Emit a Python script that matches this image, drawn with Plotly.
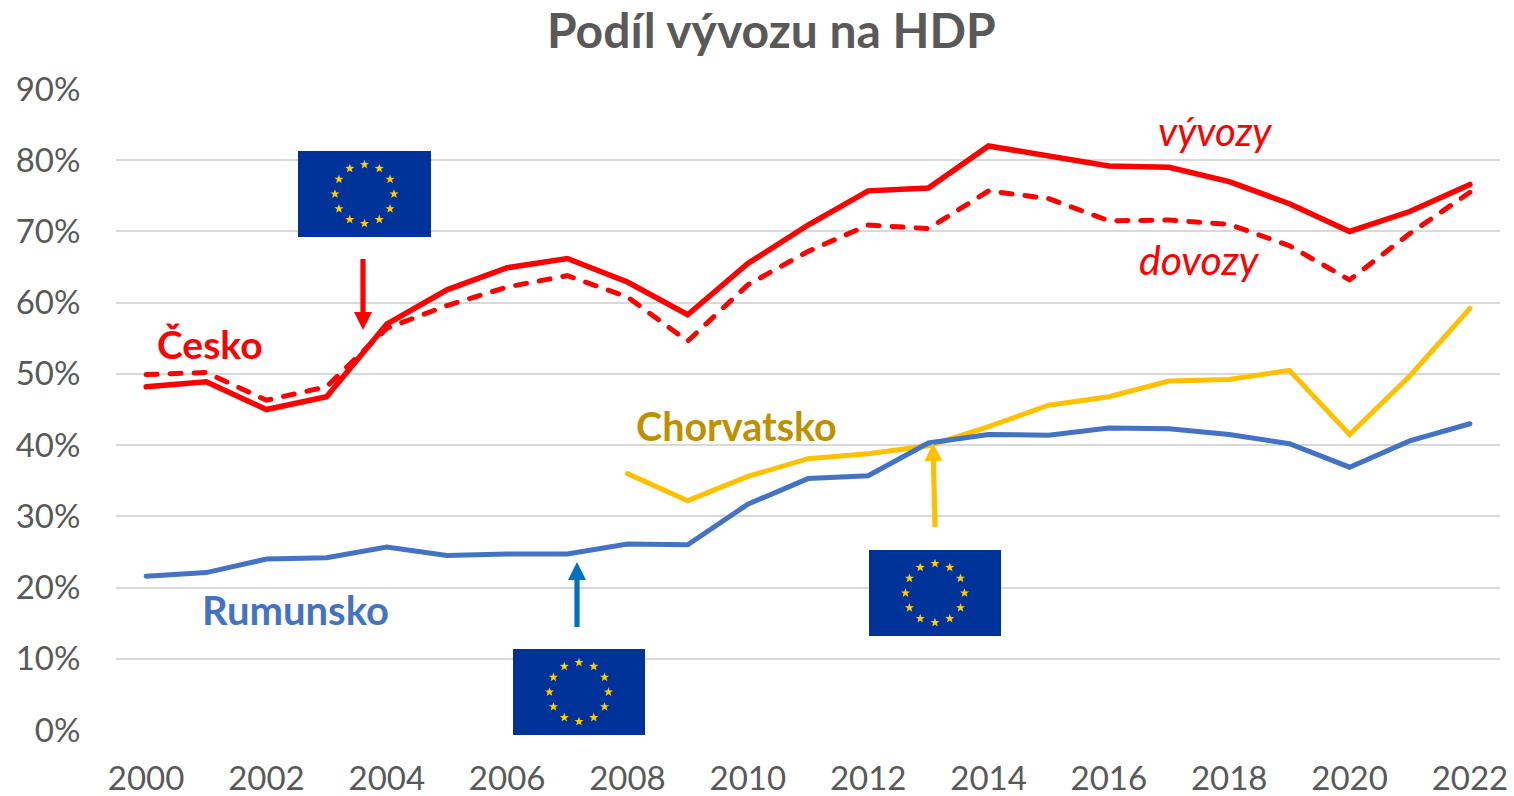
import math
import plotly.graph_objects as go

years = [str(y) for y in range(2000, 2023)]
cz_export = [48.2, 48.9, 45.0, 46.8, 57.0, 61.8, 64.9, 66.2, 62.9, 58.3, 65.5, 70.9, 75.7, 76.1, 82.0, 80.6, 79.2, 79.0, 77.0, 73.9, 70.0, 72.8, 76.6]
cz_import = [49.9, 50.2, 46.3, 48.2, 56.4, 59.6, 62.2, 63.8, 60.8, 54.6, 62.5, 67.2, 70.9, 70.4, 75.7, 74.6, 71.5, 71.6, 71.0, 68.0, 63.2, 69.7, 75.5]
croatia = [None] * 8 + [36.0, 32.2, 35.6, 38.1, 38.8, 39.9, 42.6, 45.6, 46.8, 49.0, 49.2, 50.5, 41.5, 49.7, 59.2]
romania = [21.6, 22.1, 24.0, 24.2, 25.7, 24.5, 24.7, 24.7, 26.1, 26.0, 31.7, 35.3, 35.7, 40.3, 41.5, 41.4, 42.4, 42.3, 41.5, 40.2, 36.9, 40.6, 43.0]
y_ticks = list(range(0, 100, 10))
y_labels = [f"{v}%" for v in y_ticks]

W, H = 1514, 796
L, R, T, B = 116, 1500, 89, 730
FONT = "Lato"
GREY = "#595959"

# page pixels -> plot-area (paper) fractions
px = lambda x: (x - L) / (R - L)
py = lambda y: (B - y) / (B - T)


def P(x, y):
    return f"{px(x):.5f},{py(y):.5f}"


shapes = []


def poly(points, color):
    d = "M" + " L".join(P(x, y) for x, y in points) + " Z"
    shapes.append(dict(type="path", path=d, xref="paper", yref="paper", fillcolor=color,
                       line=dict(width=0), layer="above"))


def flag(x0, y0, x1, y1):
    poly([(x0, y0), (x1, y0), (x1, y1), (x0, y1)], "#003399")
    cx, cy = (x0 + x1) / 2, (y0 + y1) / 2
    for i in range(12):
        a = i * math.pi / 6
        sx, sy = cx + 29.5 * math.sin(a), cy - 29.5 * math.cos(a)
        pts = []
        for k in range(10):
            r = 4.8 if k % 2 == 0 else 2.0
            b = k * math.pi / 5
            pts.append((sx + r * math.sin(b), sy - r * math.cos(b)))
        poly(pts, "#FFCC00")


def arrow(x0, y0, x1, y1, color):
    dx, dy = x1 - x0, y1 - y0
    n = math.hypot(dx, dy)
    ux, uy = dx / n, dy / n
    hl, hw = 18, 9
    bx, by = x1 - ux * hl, y1 - uy * hl
    w = 2.6
    poly([(x0 - uy * w, y0 + ux * w), (x0 + uy * w, y0 - ux * w),
          (bx + uy * w, by - ux * w), (bx - uy * w, by + ux * w)], color)
    poly([(x1, y1), (bx + uy * hw, by - ux * hw), (bx - uy * hw, by + ux * hw)], color)


flag(298, 151, 431, 237)
flag(513, 649, 645, 735)
flag(869, 550, 1001, 636)
arrow(363, 259, 363, 330, "#FF0000")
arrow(577, 627, 577, 562, "#0070C0")
arrow(935, 527, 933, 443, "#FFC000")


def label(text, x, y, color, size=36, bold=True, italic=False):
    t = f"<i>{text}</i>" if italic else text
    t = f"<b>{t}</b>" if bold else t
    return dict(text=t, x=px(x), y=py(y), xref="paper", yref="paper", showarrow=False,
                xanchor="center", yanchor="middle", font=dict(family=FONT, size=size, color=color))


annotations = [
    label("Česko", 210, 344, "#FF0000", size=39),
    label("Chorvatsko", 736, 425, "#BF9000", size=39.5),
    label("Rumunsko", 295, 610, "#4472C4", size=40),
    label("vývozy", 1215, 131, "#FF0000", size=40, bold=False, italic=True),
    label("dovozy", 1199, 259, "#FF0000", size=41, bold=False, italic=True),
    label("Podíl vývozu na HDP", 771, 29, GREY, size=48),
]

fig = go.Figure()
fig.add_trace(go.Scatter(x=years, y=cz_import, mode="lines", name="Česko dovozy",
                         line=dict(color="#FF0000", width=5, dash="11px,13px")))
fig.add_trace(go.Scatter(x=years, y=cz_export, mode="lines", name="Česko vývozy",
                         line=dict(color="#FF0000", width=5.5)))
fig.add_trace(go.Scatter(x=years, y=croatia, mode="lines", name="Chorvatsko",
                         line=dict(color="#FFC000", width=5)))
fig.add_trace(go.Scatter(x=years, y=romania, mode="lines", name="Rumunsko",
                         line=dict(color="#4472C4", width=5)))

fig.update_layout(
    width=W, height=H, showlegend=False, paper_bgcolor="white", plot_bgcolor="white",
    margin=dict(l=L, r=W - R, t=T, b=H - B, pad=0),
    xaxis=dict(type="category", range=[-0.5, 22.5], tickmode="array", automargin=False,
               tickvals=years[::2], ticktext=years[::2], ticks="outside", tickcolor="rgba(0,0,0,0)",
               ticklen=19, showgrid=False, showline=False, zeroline=False,
               tickfont=dict(family=FONT, size=33, color=GREY)),
    yaxis=dict(range=[0, 90], tickmode="array", tickvals=y_ticks, ticktext=y_labels, automargin=False,
               ticks="outside", tickcolor="rgba(0,0,0,0)", ticklen=28,
               gridcolor="#D9D9D9", gridwidth=2, zeroline=False, showline=False,
               tickfont=dict(family=FONT, size=33, color=GREY)),
    shapes=shapes, annotations=annotations,
)
fig.write_html("out.html", config=dict(displayModeBar=False),
               post_script="document.body.style.margin='0';document.body.style.overflow='hidden';"
                           "document.querySelectorAll('.js-line').forEach(function(p){p.style.strokeLinecap='round';});")
